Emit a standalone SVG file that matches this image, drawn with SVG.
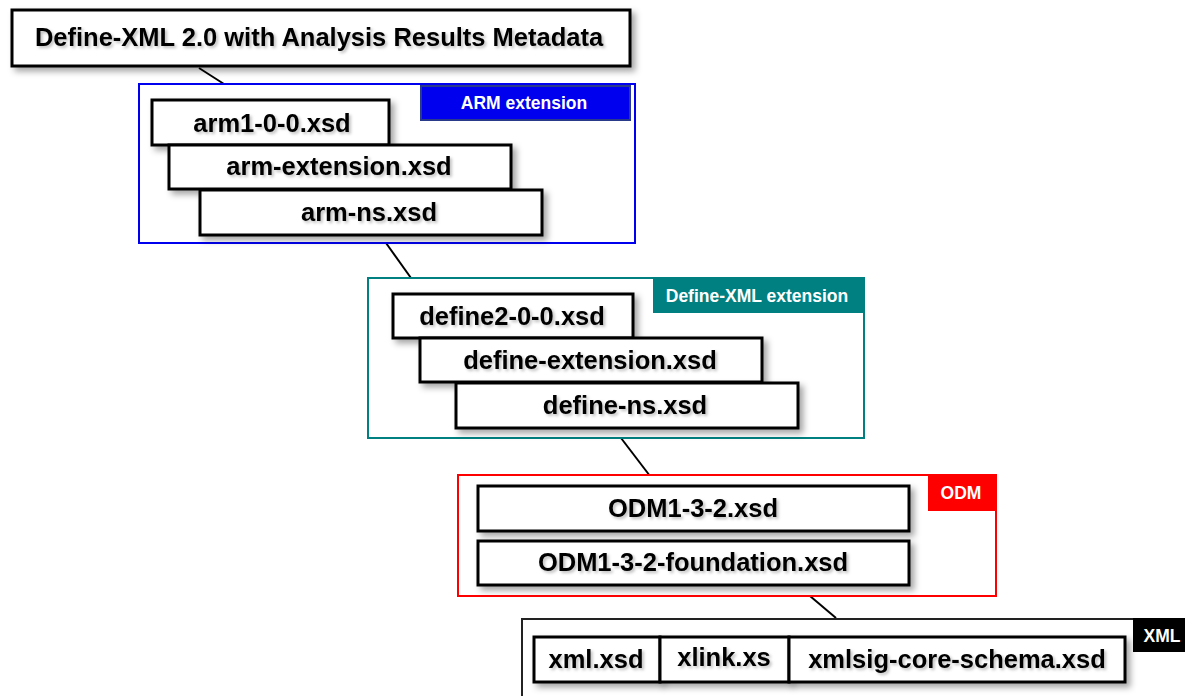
<svg xmlns="http://www.w3.org/2000/svg" width="1185" height="696" viewBox="0 0 1185 696">
<defs>
<filter id="sh" x="-10%" y="-20%" width="125%" height="150%">
<feDropShadow dx="4" dy="4" stdDeviation="3" flood-color="#000" flood-opacity="0.35"/>
</filter>
<filter id="tsh" x="-10%" y="-30%" width="120%" height="160%">
<feDropShadow dx="2" dy="2" stdDeviation="1.5" flood-color="#000" flood-opacity="0.25"/>
</filter>
<style>
.box{fill:#fff;stroke:#000;stroke-width:3;filter:url(#sh)}
.t{font-family:"Liberation Sans",Arial,sans-serif;font-weight:bold;font-size:25.5px;fill:#000;text-anchor:middle;filter:url(#tsh)}
.lt{font-family:"Liberation Sans",Arial,sans-serif;font-weight:bold;font-size:17.5px;fill:#fff;text-anchor:middle}
.con{stroke:#000;stroke-width:2;fill:none}
</style>
</defs>
<rect width="1185" height="696" fill="#fff"/>
<g id="connectors">
<line class="con" x1="199" y1="68" x2="224" y2="84"/>
<line class="con" x1="386" y1="243" x2="411" y2="278"/>
<line class="con" x1="621" y1="438" x2="650" y2="476"/>
<line class="con" x1="810" y1="596" x2="836" y2="618"/>
</g>
<g id="title">
<rect class="box" x="12" y="10" width="618" height="56"/>
<text class="t" x="319" y="46">Define-XML 2.0 with Analysis Results Metadata</text>
</g>
<g id="arm">
<rect x="139" y="84" width="496" height="159" fill="#fff" stroke="#0000ee" stroke-width="2"/>
<rect x="421" y="86" width="209" height="34" fill="#0000ee" stroke="#2a3a8a" stroke-width="2"/>
<text class="lt" x="524" y="109">ARM extension</text>
<g id="arm1"><rect class="box" x="152" y="100" width="237" height="45"/><text class="t" x="272" y="132">arm1-0-0.xsd</text></g>
<g id="armext"><rect class="box" x="169" y="145" width="342" height="44"/><text class="t" x="339" y="175">arm-extension.xsd</text></g>
<g id="armns"><rect class="box" x="200" y="190" width="342" height="45"/><text class="t" x="369" y="221">arm-ns.xsd</text></g>
</g>
<g id="define">
<rect x="368" y="278" width="496" height="160" fill="#fff" stroke="#008080" stroke-width="2"/>
<rect x="653" y="278" width="211" height="35" fill="#008080"/>
<text class="lt" x="757" y="302">Define-XML extension</text>
<g id="def2"><rect class="box" x="393" y="294" width="240" height="44"/><text class="t" x="512" y="325">define2-0-0.xsd</text></g>
<g id="defext"><rect class="box" x="420" y="338" width="342" height="44"/><text class="t" x="590" y="369">define-extension.xsd</text></g>
<g id="defns"><rect class="box" x="456" y="383" width="342" height="45"/><text class="t" x="625" y="414">define-ns.xsd</text></g>
</g>
<g id="odm">
<rect x="458" y="475" width="538" height="121" fill="#fff" stroke="#ff0000" stroke-width="2"/>
<rect x="928" y="475" width="68" height="36" fill="#ff0000"/>
<text class="lt" x="961" y="499">ODM</text>
<g id="odm132"><rect class="box" x="478" y="486" width="431" height="45"/><text class="t" x="693" y="517">ODM1-3-2.xsd</text></g>
<g id="odmf"><rect class="box" x="478" y="541" width="431" height="44"/><text class="t" x="693" y="571">ODM1-3-2-foundation.xsd</text></g>
</g>
<g id="xml">
<rect x="522" y="619" width="680" height="100" fill="#fff" stroke="#222" stroke-width="2"/>
<rect x="1133" y="618" width="55" height="34" fill="#000"/>
<text class="lt" x="1162" y="642">XML</text>
<g id="xmlxsd"><rect class="box" x="534" y="637" width="126" height="45"/><text class="t" x="596" y="668">xml.xsd</text></g>
<g id="xlink"><rect class="box" x="660" y="637" width="129" height="45"/><text class="t" x="724" y="666">xlink.xs</text></g>
<g id="xmlsig"><rect class="box" x="789" y="637" width="336" height="45"/><text class="t" x="957" y="668">xmlsig-core-schema.xsd</text></g>
</g>
</svg>
